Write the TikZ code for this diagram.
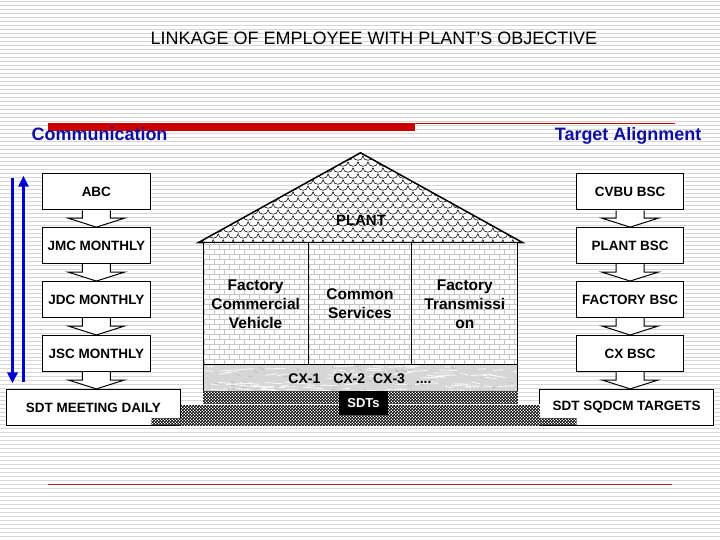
\documentclass[tikz,border=0pt]{standalone}
\usepackage{fontspec}
\setmainfont{Liberation Sans}
\usetikzlibrary{arrows.meta,calc,patterns}

\definecolor{navy}{RGB}{16,16,160}
\definecolor{stripegray}{RGB}{214,214,214}
\definecolor{barred}{RGB}{204,0,0}
\definecolor{arrowblue}{RGB}{0,0,210}
\definecolor{marble}{RGB}{214,214,214}
\definecolor{bottomred}{RGB}{180,40,40}

\pgfdeclarepatternformonly{mybricks}{\pgfqpoint{-1pt}{-1pt}}{\pgfqpoint{11pt}{11pt}}{\pgfqpoint{10pt}{10pt}}{%
 \pgfsetlinewidth{0.5pt}%
 \pgfpathmoveto{\pgfqpoint{0pt}{0pt}}\pgfpathlineto{\pgfqpoint{10pt}{0pt}}%
 \pgfpathmoveto{\pgfqpoint{0pt}{5pt}}\pgfpathlineto{\pgfqpoint{10pt}{5pt}}%
 \pgfpathmoveto{\pgfqpoint{0pt}{0pt}}\pgfpathlineto{\pgfqpoint{0pt}{5pt}}%
 \pgfpathmoveto{\pgfqpoint{5pt}{5pt}}\pgfpathlineto{\pgfqpoint{5pt}{10pt}}%
 \pgfusepath{stroke}}

\pgfdeclarepatternformonly{finecheck}{\pgfpointorigin}{\pgfqpoint{3pt}{3pt}}{\pgfqpoint{3pt}{3pt}}{%
 \pgfpathrectangle{\pgfpointorigin}{\pgfqpoint{1.55pt}{1.55pt}}%
 \pgfpathrectangle{\pgfqpoint{1.5pt}{1.5pt}}{\pgfqpoint{1.55pt}{1.55pt}}%
 \pgfusepath{fill}}

\newcommand\blockarrow[2]{%
  \draw[barrow] ($(#1.south)+(-14,0)$) -- ++(0,8) -- ++(-14,0)
    -- (#1.south |- #2.north) -- ($(#1.south)+(28,8)$) -- ++(-14,0) -- ++(0,-8);}

\begin{document}
\begin{tikzpicture}[x=1pt,y=-1pt,
  stage/.style={draw, line width=1.1pt, fill=white, minimum width=108pt,
    minimum height=36pt, inner sep=0pt, font=\bfseries\fontsize{13.5}{15}\selectfont},
  barrow/.style={draw, line width=1pt, fill=white, line join=miter},
  heading/.style={text=navy, font=\bfseries\fontsize{18}{20}\selectfont, inner sep=0pt},
  bluearrow/.style={draw=arrowblue, line width=3.5pt, -{Triangle[length=11pt,width=10pt]}},
  room/.style={font=\bfseries\fontsize{15.5}{19}\selectfont, align=center},
  stepband/.style={pattern=finecheck, pattern color=black}]

% background with stripes
\fill[white] (0,0) rectangle (720,540);
\foreach \i in {0,...,134} \draw[stripegray, line width=1pt] (0,\i*4+1.5) -- (720,\i*4+1.5);

% title
\node[font=\fontsize{18}{20}\selectfont, anchor=base] (title) at (374,45) {LINKAGE OF EMPLOYEE WITH PLANT’S OBJECTIVE};

% red bar
\fill[barred] (48,123) rectangle (415,131);
\draw[barred, line width=1pt] (415,123.5) -- (675,123.5);

% headings
\node[heading, anchor=base west] (comm) at (31,141) {Communication};
\node[heading, anchor=base east] (targ) at (702,141) {Target Alignment};

% blue arrows
\coordinate (dtop) at (12,178); \coordinate (dbot) at (12,384);
\coordinate (utop) at (23,176); \coordinate (ubot) at (23,383);
\draw[bluearrow] (dtop) -- (dbot);
\draw[bluearrow] (ubot) -- (utop);

% left boxes
\node[stage] (abc) at (96,192) {ABC};
\node[stage] (jmc) at (96,246) {JMC MONTHLY};
\node[stage] (jdc) at (96,300) {JDC MONTHLY};
\node[stage] (jsc) at (96,354) {JSC MONTHLY};
\node[stage, minimum width=174pt] (sdtl) at (93,408) {SDT MEETING DAILY};
\blockarrow{abc}{jmc}
\blockarrow{jmc}{jdc}
\blockarrow{jdc}{jsc}
\blockarrow{jsc}{sdtl}

% right boxes
\node[stage, minimum width=107pt] (cvbu) at (630.5,192) {CVBU BSC};
\node[stage, minimum width=107pt] (pbsc) at (630.5,246) {PLANT BSC};
\node[stage, minimum width=107pt] (fbsc) at (630.5,300) {FACTORY BSC};
\node[stage, minimum width=107pt] (cxbsc) at (630.5,354) {CX BSC};
\node[stage, minimum width=174pt] (sdtr) at (627,408) {SDT SQDCM TARGETS};
\blockarrow{cvbu}{pbsc}
\blockarrow{pbsc}{fbsc}
\blockarrow{fbsc}{cxbsc}
\blockarrow{cxbsc}{sdtr}

% roof
\coordinate (rl) at (198,243); \coordinate (rr) at (523,243); \coordinate (apex) at (360.5,153);
\begin{scope}
  \clip (rl) -- (apex) -- (rr) -- cycle;
  \fill[white] (rl) -- (apex) -- (rr) -- cycle;
  \foreach \r in {0,...,15} {
    \pgfmathsetmacro\yy{150+6*\r}
    \pgfmathsetmacro\off{mod(\r,2)*5}
    \foreach \c in {0,...,34} {
      \pgfmathsetmacro\xx{188+\off+10*\c}
      \draw[line width=0.55pt] (\xx,\yy) .. controls (\xx,\yy+6) and (\xx+10,\yy+6) .. (\xx+10,\yy);
    }
  }
\end{scope}
\draw[line width=1.5pt, line join=miter] (rl) -- (apex) -- (rr) -- cycle;
\node[font=\bfseries\fontsize{15}{17}\selectfont] (plant) at (361,221) {PLANT};

% walls
\fill[white] (203,243) rectangle (518,365);
\fill[pattern=mybricks, pattern color=gray!45] (203,243) rectangle (518,365);
\draw[line width=1pt] (203,243) rectangle (518,365);
\draw[line width=1pt] (308,243) -- (308,365);
\draw[line width=1pt] (412,243) -- (412,365);
\node[room] (fcv) at (255.5,305) {Factory\\Commercial\\Vehicle};
\node[room] (cs) at (360,304.5) {Common\\Services};
\node[room] (ftr) at (465,305) {Factory\\Transmissi\\on};

% foundation
\begin{scope}
  \clip (203,365) rectangle (518,392);
  \fill[marble] (203,365) rectangle (518,392);
  \pgfmathsetseed{7}
  \foreach \k in {1,...,90} {
    \pgfmathsetmacro\sx{200+rnd*318}
    \pgfmathsetmacro\sy{366+rnd*26}
    \pgfmathsetmacro\sl{6+rnd*16}
    \pgfmathsetmacro\sd{rnd*4-2}
    \draw[white, line width=0.9pt, opacity=0.8] (\sx,\sy) -- (\sx+\sl,\sy+\sd);
  }
  \foreach \k in {1,...,50} {
    \pgfmathsetmacro\sx{200+rnd*318}
    \pgfmathsetmacro\sy{366+rnd*26}
    \draw[gray!70, line width=0.6pt, opacity=0.6] (\sx,\sy) -- (\sx+4,\sy+1);
  }
\end{scope}
\draw[line width=1pt] (203,365) rectangle (518,392);
\node[font=\bfseries\fontsize{14}{16}\selectfont] (cx) at (360,379) {CX-1\hspace{13pt}CX-2\hspace{8pt}CX-3\hspace{11pt}....};

% steps
\fill[white] (203,392) rectangle (518,405);
\fill[stepband] (203,392) rectangle (518,405);
\fill[white] (181,405) rectangle (540,419);
\fill[stepband] (181,405) rectangle (540,419);
\fill[white] (151,419) rectangle (577,426);
\fill[stepband] (151,419) rectangle (577,426);
\node[fill=black, text=white, font=\bfseries\fontsize{13}{15}\selectfont,
  minimum width=49pt, minimum height=24pt, inner sep=0pt] (sdts) at (363.5,404) {SDTs};

% bottom line
\draw[bottomred, line width=1pt] (48,485) -- (672,485);
\end{tikzpicture}
\end{document}
